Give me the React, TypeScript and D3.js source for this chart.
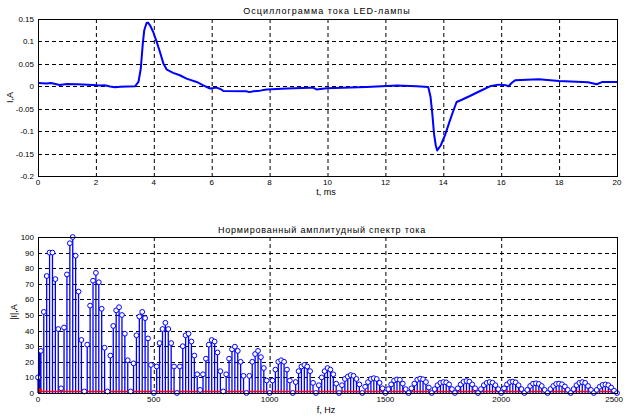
import React from "react";
import * as d3 from "d3";

const W = 624;
const H = 416;

// ---- Top chart data (oscillogram) ----
const topTitle = "Осциллограмма тока LED-лампы";
const topXLabel = "t, ms";
const topYLabel = "I,A";
const topXTicks = [0, 2, 4, 6, 8, 10, 12, 14, 16, 18, 20];
const topYTicks = [0.15, 0.1, 0.05, 0, -0.05, -0.1, -0.15, -0.2];
const topYTickLabels = ["0.15", "0.1", "0.05", "0", "-0.05", "-0.1", "-0.15", "-0.2"];
const timeMs = [
  0, 0.3, 0.45, 0.75, 1.0, 1.35, 1.9, 2.14, 2.3, 2.49, 2.66, 2.85, 3.35, 3.47, 3.55, 3.62, 3.67, 3.75, 3.8,
  3.87, 3.98, 4.1, 4.21, 4.33, 4.45, 4.67, 4.9, 5.13, 5.48, 5.71, 5.94, 6.17, 6.3, 6.4, 7.2, 7.3, 7.45,
  7.67, 7.9, 8.59, 9.39, 9.5, 9.62, 9.97, 11.35, 12.4, 13.08, 13.48, 13.56, 13.62, 13.68, 13.74, 13.79,
  13.91, 14.06, 14.23, 14.35, 14.46, 14.64, 14.92, 15.27, 15.61, 15.9, 16.17, 16.25, 16.36, 16.48, 17.3,
  18.0, 19.0, 19.3, 19.5, 20,
];
const currentA = [
  0.0074, 0.006, 0.0074, 0.003, 0.005, 0.0045, 0.003, 0.002, 0.0025, -0.0003, -0.002, -0.001, 0.0, 0.0096,
  0.039, 0.095, 0.125, 0.141, 0.142, 0.136, 0.121, 0.099, 0.077, 0.051, 0.037, 0.03, 0.0246, 0.017, 0.0096,
  0.002, -0.005, -0.003, -0.006, -0.0104, -0.011, -0.013, -0.011, -0.0097, -0.007, -0.005, -0.003, -0.003,
  -0.007, -0.0045, -0.0015, 0.002, 0.0, -0.0015, -0.024, -0.061, -0.106, -0.132, -0.143, -0.132, -0.109,
  -0.076, -0.054, -0.035, -0.03, -0.0217, -0.0105, 0.0, 0.0037, 0.0022, 0.0, 0.0074, 0.0134, 0.0156, 0.012,
  0.009, 0.0045, 0.0097, 0.0097,
];

// ---- Bottom chart data (normalized spectrum) ----
const botTitle = "Нормированный амплитудный спектр тока";
const botXLabel = "f, Hz";
const botYLabel = "|I|,A";
const botXTicks = [0, 500, 1000, 1500, 2000, 2500];
const botYTicks = [0, 10, 20, 30, 40, 50, 60, 70, 80, 90, 100];
const freqStepHz = 12.5;
const spectrum = [
  10, 27, 52, 75, 90, 90, 73, 41, 3,
  42, 76, 96, 100, 88, 65, 34, 1,
  31, 56, 72, 77, 71, 54, 29, 1,
  24, 43, 53, 55, 50, 38, 21, 1,
  19, 37, 49, 52, 48, 35, 18, 0,
  17, 32, 41, 45, 41, 32, 17, 0,
  17, 30, 37, 38, 33, 24, 12, 2,
  12, 22, 31, 34, 33, 26, 14, 1,
  12, 22, 28, 29.7, 27, 20, 11, 0,
  11, 20, 25, 27, 23, 16, 8, 0,
  8, 15, 20, 21, 20, 15, 8, 0,
  7, 14, 17, 18, 17, 14, 6.5, 0,
  5, 10, 14, 16, 15, 12, 6, 0,
  5, 9, 10.5, 11.5, 11, 9, 5.5, 0,
  4, 7, 9, 9.5, 9, 6.5, 3, 0,
  2.5, 5.5, 8, 8.7, 8.5, 6, 2.5, 0,
  3, 6, 8.5, 9.2, 8.8, 7, 3.5, 0,
  2.5, 5, 6.5, 7, 6.8, 5.5, 2.5, 0,
  3, 5.5, 7.2, 7.7, 7.3, 5.5, 3, 0,
  2.5, 5, 6.5, 7, 6.6, 5, 2.5, 0,
  3, 5.5, 7, 7.3, 6.8, 5, 2.5, 0,
  2, 4.5, 6, 6.2, 5.8, 4.5, 2, 0,
  2.5, 4.5, 5.8, 6, 5.6, 4.2, 2, 0,
  2.5, 5, 6.5, 7, 6.5, 4.5, 2, 0,
  2, 4, 5.2, 5.5, 5, 3.5, 1.5, 0,
];
const dcBlockFreq = [3, 6, 9];
const dcBlockVal = [28, 28, 28];
const redMarkFreq = [10];
const redMarkVal = [2];
const redLevel = 1;

const FONT = "'Liberation Sans', Arial, sans-serif";
const BLUE = "#0000ff";

const L = 38, R = 617;
const topBox = { t: 19, b: 176 };
const botBox = { t: 237, b: 393 };

function Frame({ x, y, xTicks, yTicks, yLabels, top, bottom }: any) {
  const [x0, x1] = x.range();
  return (
    <g>
      {xTicks.slice(1, -1).map((v: number) => (
        <line key={"gx" + v} x1={x(v) + 0.5} x2={x(v) + 0.5} y1={top} y2={bottom} stroke="#000" strokeDasharray="4,3" strokeWidth={1} />
      ))}
      {yTicks.filter((v: number) => y(v) > top + 1 && y(v) < bottom - 1).map((v: number) => (
        <line key={"gy" + v} x1={x0} x2={x1} y1={Math.round(y(v)) + 0.5} y2={Math.round(y(v)) + 0.5} stroke="#000" strokeDasharray="4,3" strokeWidth={1} />
      ))}
      {yTicks.map((v: number, i: number) => (
        <text key={"ty" + v} x={x0 - 4} y={y(v) + 3} textAnchor="end" fontSize={8} fontFamily={FONT}>
          {yLabels ? yLabels[i] : String(v)}
        </text>
      ))}
      {xTicks.map((v: number, i: number) => {
        const last = i === xTicks.length - 1 && String(v).length > 2;
        return (
          <text key={"tx" + v} x={last ? W - 1 : x(v)} y={bottom + 9} textAnchor={last ? "end" : "middle"} fontSize={8} fontFamily={FONT}>
            {String(v)}
          </text>
        );
      })}
    </g>
  );
}

export default function App() {
  // Top
  const xT = d3.scaleLinear().domain([0, 20]).range([L, R]);
  const yT = d3.scaleLinear().domain([-0.2, 0.15]).range([topBox.b, topBox.t]);
  const line = d3
    .line<number>()
    .x((_, i) => xT(timeMs[i]))
    .y((d) => yT(d));

  // Bottom
  const xB = d3.scaleLinear().domain([0, 2500]).range([L, R]);
  const yB = d3.scaleLinear().domain([0, 100]).range([botBox.b, botBox.t]);

  return (
    <svg width={W} height={H} style={{ position: "absolute", left: 0, top: 0, background: "#fff" }}>
      <rect x={0} y={0} width={W} height={H} fill="#fff" />
      {/* Top chart */}
      <Frame x={xT} y={yT} xTicks={topXTicks} yTicks={topYTicks} yLabels={topYTickLabels} top={topBox.t} bottom={topBox.b} />
      <path d={line(currentA) || ""} fill="none" stroke={BLUE} strokeWidth={2} strokeLinejoin="round" />
      <rect x={L + 0.5} y={topBox.t + 0.5} width={R - L} height={topBox.b - topBox.t} fill="none" stroke="#000" strokeWidth={1} />
      <text x={327} y={14} textAnchor="middle" fontSize={9} fontFamily={FONT} letterSpacing={1}>{topTitle}</text>
      <text x={326} y={195} textAnchor="middle" fontSize={9} fontFamily={FONT}>{topXLabel}</text>
      <text transform={`translate(13,${(topBox.t + topBox.b) / 2}) rotate(-90)`} textAnchor="middle" fontSize={9} fontFamily={FONT}>{topYLabel}</text>

      {/* Bottom chart */}
      <Frame x={xB} y={yB} xTicks={botXTicks} yTicks={botYTicks} top={botBox.t} bottom={botBox.b} />
      <g>
        {dcBlockFreq.map((f, i) => (
          <line key={"dc" + i} x1={xB(f)} x2={xB(f)} y1={yB(0)} y2={yB(dcBlockVal[i])} stroke={BLUE} strokeWidth={1.5} />
        ))}
        {spectrum.map((v, i) => (
          <line key={"s" + i} x1={xB(i * freqStepHz)} x2={xB(i * freqStepHz)} y1={yB(0)} y2={yB(v)} stroke={BLUE} strokeWidth={1.3} />
        ))}
        <line x1={xB(0)} x2={xB(2500)} y1={yB(redLevel)} y2={yB(redLevel)} stroke="#ff0000" strokeWidth={1.5} />
        {redMarkFreq.map((f, i) => (
          <rect key={"rm" + i} x={xB(f) - 1.5} y={yB(redMarkVal[i]) - 1.5} width={3} height={3} fill="#ff0000" />
        ))}
        {spectrum.map((v, i) => (
          <circle key={"m" + i} cx={xB(i * freqStepHz)} cy={yB(v)} r={2.4} fill="#fff" stroke={BLUE} strokeWidth={1} />
        ))}
      </g>
      <rect x={L + 0.5} y={botBox.t + 0.5} width={R - L} height={botBox.b - botBox.t} fill="none" stroke="#000" strokeWidth={1} />
      <text x={322} y={233} textAnchor="middle" fontSize={9} fontFamily={FONT} letterSpacing={0.8}>{botTitle}</text>
      <text x={326} y={413} textAnchor="middle" fontSize={9} fontFamily={FONT}>{botXLabel}</text>
      <text transform={`translate(17,${(botBox.t + botBox.b) / 2 - 3}) rotate(-90)`} textAnchor="middle" fontSize={9} fontFamily={FONT}>{botYLabel}</text>
    </svg>
  );
}
